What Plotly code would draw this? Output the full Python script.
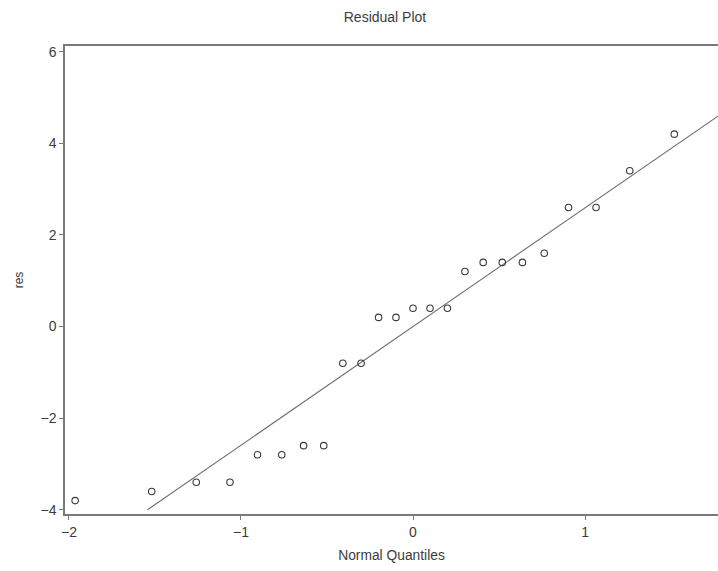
import numpy as np
import plotly.graph_objects as go

# Normal quantiles (Blom scores) and the corresponding residuals
quantiles = [-1.964, -1.519, -1.260, -1.064, -0.904, -0.763, -0.636, -0.519,
             -0.408, -0.302, -0.200, -0.099, 0.000, 0.099, 0.200, 0.302,
             0.408, 0.519, 0.636, 0.763, 0.904, 1.064, 1.260, 1.519, 1.964]
residuals = [-3.8, -3.6, -3.4, -3.4, -2.8, -2.8, -2.6, -2.6,
             -0.8, -0.8, 0.2, 0.2, 0.4, 0.4, 0.4, 1.2,
             1.4, 1.4, 1.4, 1.6, 2.6, 2.6, 3.4, 4.2, 5.2]

x_ticks = [-2, -1, 0, 1]
y_ticks = [-4, -2, 0, 2, 4, 6]

# Reference line: mean + sd * quantile, spanning the labelled residual range
res = np.array(residuals)
mu, sd = res.mean(), res.std(ddof=1)
y_lo, y_hi = min(y_ticks), max(y_ticks)
line_x = [(y_lo - mu) / sd, (y_hi - mu) / sd]
line_y = [mu + sd * v for v in line_x]

font_family = "Liberation Sans, Arial, Helvetica, sans-serif"
grey = "#7a7a7a"
text_col = "#3c3c3c"

fig = go.Figure()
fig.add_trace(go.Scatter(
    x=line_x, y=line_y, mode="lines",
    line=dict(color="#6e6e6e", width=1.1),
    hoverinfo="skip", showlegend=False,
))
fig.add_trace(go.Scatter(
    x=quantiles, y=residuals, mode="markers",
    marker=dict(symbol="circle-open", size=6.5, color="#3a3a3a",
                line=dict(width=1.1, color="#3a3a3a")),
    showlegend=False,
))

fig.update_layout(
    width=718, height=571,
    margin=dict(l=65, r=0, t=46, b=57),
    paper_bgcolor="white", plot_bgcolor="white",
    font=dict(family=font_family, size=14, color=text_col),
    title=dict(text="Residual Plot", x=385 / 718, xanchor="center",
               y=1 - 17 / 571, yanchor="middle", yref="container",
               font=dict(size=14, color=text_col)),
    xaxis=dict(
        range=[-2.023, 1.773], tickvals=x_ticks,
        showgrid=False, zeroline=False,
        showline=True, linecolor=grey, linewidth=1.5, mirror=True,
        ticks="outside", ticklen=4, tickcolor=grey, tickwidth=1,
        tickfont=dict(size=14),
        title=dict(text="Normal Quantiles", standoff=12,
                   font=dict(size=13.8, color=text_col)),
        automargin=False,
    ),
    yaxis=dict(
        range=[-4.092, 6.124], tickvals=y_ticks,
        showgrid=False, zeroline=False,
        showline=True, linecolor=grey, linewidth=1.5, mirror=False,
        ticks="outside", ticklen=4, tickcolor=grey, tickwidth=1,
        tickfont=dict(size=14),
        title=dict(text="res", standoff=14,
                   font=dict(size=12, color=text_col)),
        automargin=False,
    ),
)

fig.write_html("out.html")
